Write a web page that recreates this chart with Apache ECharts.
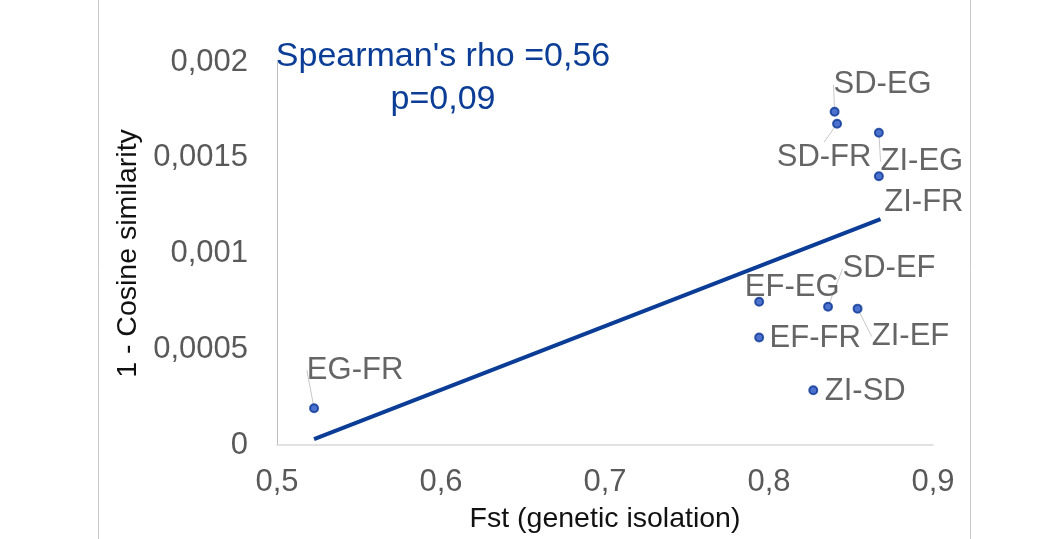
<!DOCTYPE html>
<html>
<head>
<meta charset="utf-8">
<script src="https://cdn.jsdelivr.net/npm/echarts@6/dist/echarts.min.js"></script>
<style>
  html, body { margin: 0; padding: 0; background: #fff; }
  #main { width: 1043px; height: 539px; }
</style>
</head>
<body>
<div id="main"></div>
<script>
// population pairs
var pairNames = ['EG-FR', 'SD-EG', 'SD-FR', 'ZI-EG', 'ZI-FR', 'EF-EG', 'SD-EF', 'ZI-EF', 'EF-FR', 'ZI-SD'];
var fstValues = [0.5226, 0.840, 0.8415, 0.867, 0.867, 0.794, 0.836, 0.854, 0.794, 0.827];
var cosineDist = [0.000192, 0.00174, 0.001678, 0.001631, 0.001403, 0.000748, 0.000722, 0.000712, 0.000561, 0.000286];
// regression line ends
var trendX = [0.5226, 0.868];
var trendY = [0.000031, 0.00118];

// label offsets (px) and whether a leader line is drawn
var labelShift = [[41, -38], [48, -27], [-13, 34], [43, 29], [45, 26], [33, -14], [61, -38], [53, 28], [56, 1], [52, 1]];
var leaderShown = [true, true, true, true, false, false, true, true, false, false];

var font = 'Liberation Sans, Arial, sans-serif';
var myChart = echarts.init(document.getElementById('main'));

var pts = pairNames.map(function (n, i) {
  return { name: n, value: [fstValues[i], cosineDist[i]], labelLine: { show: leaderShown[i] } };
});
var trend = trendX.map(function (x, i) { return [x, trendY[i]]; });

function comma(v) { return String(+v.toPrecision(6)).replace('.', ','); }

var option = {
  backgroundColor: '#fff',
  animation: false,
  grid: { left: 277, right: 110, top: 62, bottom: 92 },
  graphic: [
    { type: 'line', shape: { x1: 98.5, y1: 0, x2: 98.5, y2: 539 }, style: { stroke: '#c8c8c8', lineWidth: 1 } },
    { type: 'line', shape: { x1: 970.5, y1: 0, x2: 970.5, y2: 539 }, style: { stroke: '#c8c8c8', lineWidth: 1 } },
    {
      type: 'text', x: 443, y: 35,
      style: {
        text: "Spearman's rho =0,56\np=0,09",
        textAlign: 'center', fill: '#0b3d96',
        font: '34px ' + font, lineHeight: 43
      }
    }
  ],
  xAxis: {
    type: 'value', min: 0.5, max: 0.9, interval: 0.1,
    name: 'Fst (genetic isolation)', nameLocation: 'middle', nameGap: 60,
    nameTextStyle: { fontSize: 28.5, color: '#111', fontFamily: font },
    axisLine: { show: true, lineStyle: { color: '#d9d9d9', width: 1.5 } },
    axisTick: { show: false },
    splitLine: { show: false },
    axisLabel: { fontSize: 31, color: '#595959', fontFamily: font, margin: 22, formatter: comma }
  },
  yAxis: {
    type: 'value', min: 0, max: 0.002, interval: 0.0005,
    name: '1 - Cosine similarity', nameLocation: 'middle', nameGap: 131,
    nameTextStyle: { fontSize: 28.5, color: '#111', fontFamily: font },
    axisLine: { show: true, lineStyle: { color: '#bfbfbf', width: 1 } },
    axisTick: { show: false },
    splitLine: { show: false },
    axisLabel: { fontSize: 31, color: '#595959', fontFamily: font, margin: 29, formatter: comma }
  },
  series: [
    {
      type: 'line',
      data: trend,
      symbol: 'none',
      lineStyle: { color: '#0b3d96', width: 4 },
      z: 2
    },
    {
      type: 'scatter',
      data: pts,
      symbol: 'circle',
      symbolSize: 8,
      itemStyle: { color: '#1f4fc0', borderColor: '#0d3796', borderWidth: 2 },
      label: {
        show: true, position: 'inside', formatter: '{b}',
        fontSize: 31, color: '#3f3f3f', fontFamily: font
      },
      labelLine: { show: true, lineStyle: { color: '#c8c8c8', width: 1 } },
      labelLayout: function (p) {
        var s = labelShift[p.dataIndex];
        return { dx: s[0], dy: s[1] };
      },
      z: 3
    }
  ]
};
myChart.setOption(option);
</script>
</body>
</html>
